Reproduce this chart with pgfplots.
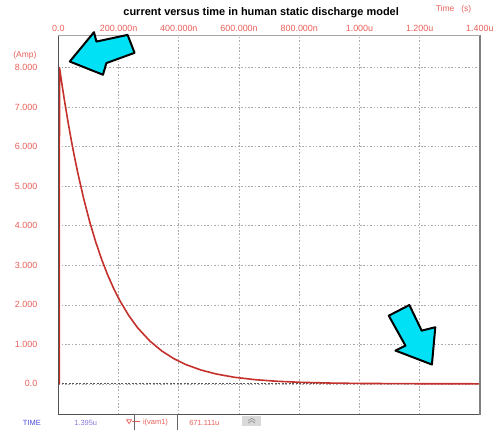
\documentclass[border=0pt]{standalone}
\usepackage{fontspec}
\setmainfont{Liberation Sans}
\usepackage{pgfplots}
\pgfplotsset{compat=1.18}
\definecolor{tickred}{HTML}{E8605A}
\definecolor{curvered}{HTML}{C4302B}
\definecolor{arrowcyan}{HTML}{00E1F5}
\definecolor{gridgray}{HTML}{ABABAB}
\definecolor{timeblue}{HTML}{4A4AE0}
\definecolor{valpurple}{HTML}{8A78E0}
\begin{document}
\begin{tikzpicture}
% pixel frame of the reference: (X,Y) in px, y downwards
\begin{scope}[x=1pt,y=-1pt,shift={(-58.5pt,416pt)}]
  \useasboundingbox (0,0) rectangle (497,429);
\end{scope}

\begin{axis}[
  scale only axis,
  width=423pt, height=381pt,
  xmin=0, xmax=1400,
  ymin=-0.78, ymax=8.83,
  clip=false,
  axis line style={draw=none},
  major tick length=0pt,
  xtick={0,200,400,600,800,1000,1200,1400},
  xticklabels={0.0,200.000n,400.000n,600.000n,800.000n,1.000u,1.200u,1.400u},
  xticklabel pos=top,
  ytick={0,1,2,3,4,5,6,7,8},
  yticklabels={0.0,1.000,2.000,3.000,4.000,5.000,6.000,7.000,8.000},
  yticklabel style={anchor=east, xshift=-17.5pt},
  tick label style={font=\fontsize{9}{10}\selectfont, text=tickred},
  /pgf/number format/assume math mode=true,
  grid=major,
  major grid style={gridgray, line width=0.6pt, dash pattern=on 1.6pt off 1.8pt},
]
% zero line
\draw[black!65, line width=0.8pt, dash pattern=on 2pt off 1.5pt]
  (axis cs:0,0) -- (axis cs:1400,0);

% i(vam1), current in A versus time in ns
\addplot[curvered, line width=1.6pt, line join=round] coordinates {
  (0,0) (3,0) (4,8.000) (14,7.484) (24,7.001) (34,6.550) (44,6.127)
  (54,5.732) (64,5.363) (84,4.693) (104,4.107) (124,3.595) (144,3.146)
  (164,2.753) (184,2.410) (204,2.109) (234,1.727) (264,1.413) (304,1.083)
  (344,0.829) (384,0.635) (424,0.486) (474,0.349) (524,0.250) (584,0.167)
  (654,0.105) (724,0.066) (804,0.039) (904,0.020) (1004,0.010)
  (1204,0.003) (1400,0.001)
};

% frame
\draw[black!68, line width=1.2pt] (rel axis cs:0,1) -- (rel axis cs:0,0) -- (rel axis cs:1,0);
\draw[black!50, line width=2pt] (rel axis cs:1,0) -- (rel axis cs:1,1);
\draw[black!35, line width=0.7pt] (rel axis cs:0,1) -- (rel axis cs:1,1);
\end{axis}

\begin{scope}[x=1pt,y=-1pt,shift={(-58.5pt,416pt)}]
  % title and units
  \node[font=\fontsize{11}{13}\selectfont\bfseries] at (262,13)
    {current versus time in human static discharge model};
  \node[font=\fontsize{8.5}{9}\selectfont, text=tickred] at (455,9) {Time\ \ \ (s)};
  \node[font=\fontsize{8.5}{9}\selectfont, text=tickred] at (25,55) {(Amp)};

  % arrows
  \draw[fill=arrowcyan, draw=black, line width=2pt, line join=round]
    (70,61.7) -- (94.3,32.3) -- (96.7,41.7) -- (128,35) -- (135,53)
    -- (106.7,63.3) -- (103.3,75) -- cycle;
  \draw[fill=arrowcyan, draw=black, line width=2pt, line join=round]
    (390,316.7) -- (410.7,306) -- (423,331.7) -- (436.7,328.3)
    -- (433.3,365.7) -- (396.7,351.7) -- (406.7,346.7) -- cycle;

  % status bar
  \node[font=\fontsize{7.5}{8}\selectfont, text=timeblue] at (32,424) {TIME};
  \node[font=\fontsize{7.5}{8}\selectfont, text=valpurple] at (86,424) {1.395u};
  \draw[tickred, line width=0.7pt] (127,421) -- (132,421) -- (129.5,425) -- cycle;
  \draw[tickred, line width=0.7pt] (132,423) -- (140,423);
  \draw[black!60, line width=0.7pt] (135,431) -- (135,416) -- (178,416) -- (178,431);
  \node[font=\fontsize{7.5}{8}\selectfont, text=tickred] at (156,424) {i(vam1)};
  \node[font=\fontsize{7.5}{8}\selectfont, text=tickred] at (205,424) {671.111u};
  \fill[black!15] (243,417) rectangle (262,427);
  \draw[black!45, line width=0.6pt] (249,422) -- (252.5,419.5) -- (256,422)
    (249,424.5) -- (252.5,422) -- (256,424.5);
\end{scope}
\end{tikzpicture}
\end{document}
